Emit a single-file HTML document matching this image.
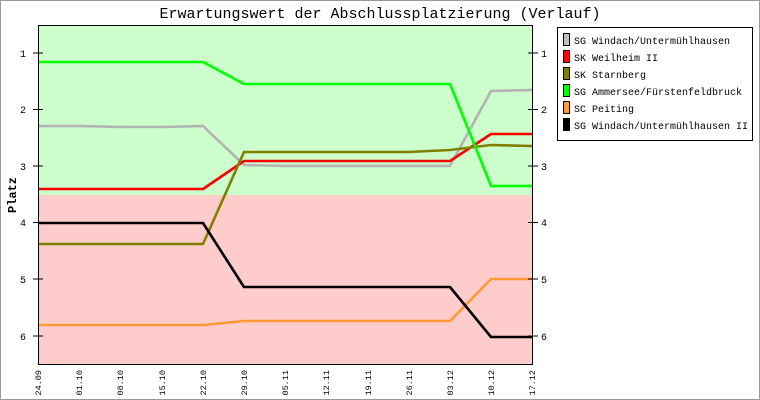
<!DOCTYPE html><html><head><style>body{margin:0}svg{display:block}</style></head><body>
<svg width="760" height="400" xmlns="http://www.w3.org/2000/svg" font-family="Liberation Mono, DejaVu Sans Mono, monospace">
<rect x="0.5" y="0.5" width="759" height="399" fill="#fff" stroke="#999"/>
<text x="380" y="18" font-size="15" text-anchor="middle">Erwartungswert der Abschlussplatzierung (Verlauf)</text>
<rect x="38" y="25" width="495" height="170" fill="#ccffcc"/>
<rect x="38" y="195" width="495" height="170" fill="#ffcccc"/>
<g fill="none" stroke-width="2.6" stroke-linejoin="round">
<polyline stroke="#b3b3b3" points="38,126 79,126 120,127 162,127 203,126 244,165 285,166 326,166 368,166 409,166 450,166 491,91 532,90"/>
<polyline stroke="#ff0000" points="38,189 203,189 244,161 450,161 491,134 532,134"/>
<polyline stroke="#808000" points="38,244 203,244 244,152 409,152 450,150 491,145 532,146"/>
<polyline stroke="#00ff00" points="38,62 203,62 244,84 450,84 491,186 532,186"/>
<polyline stroke="#ff9933" points="38,325 203,325 244,321 450,321 491,279 532,279"/>
<polyline stroke="#000000" points="38,223 203,223 244,287 450,287 491,337 532,337"/>
</g>
<g stroke="#000" fill="none"><rect x="38.5" y="25.5" width="494" height="339"/>
<path d="M33 53h10M33 109.5h10M33 166h10M33 222.5h10M33 279h10M33 336h10M528 53h10M528 109.5h10M528 166h10M528 222.5h10M528 279h10M528 336h10"/></g>
<g font-size="10"><text x="26" y="57" text-anchor="end">1</text><text x="26" y="113" text-anchor="end">2</text><text x="26" y="170" text-anchor="end">3</text><text x="26" y="226" text-anchor="end">4</text><text x="26" y="283" text-anchor="end">5</text><text x="26" y="340" text-anchor="end">6</text>
<text x="541" y="57">1</text><text x="541" y="113">2</text><text x="541" y="170">3</text><text x="541" y="226">4</text><text x="541" y="283">5</text><text x="541" y="340">6</text></g>
<text transform="translate(16,195) rotate(-90)" font-size="12" font-weight="bold" text-anchor="middle">Platz</text>
<g font-size="8.5" text-anchor="end">
<text transform="translate(41,370) rotate(-90)">24.09</text><text transform="translate(82,370) rotate(-90)">01.10</text><text transform="translate(123,370) rotate(-90)">08.10</text><text transform="translate(165,370) rotate(-90)">15.10</text><text transform="translate(206,370) rotate(-90)">22.10</text><text transform="translate(247,370) rotate(-90)">29.10</text><text transform="translate(288,370) rotate(-90)">05.11</text><text transform="translate(329,370) rotate(-90)">12.11</text><text transform="translate(371,370) rotate(-90)">19.11</text><text transform="translate(412,370) rotate(-90)">26.11</text><text transform="translate(453,370) rotate(-90)">03.12</text><text transform="translate(494,370) rotate(-90)">10.12</text><text transform="translate(535,370) rotate(-90)">17.12</text></g>
<rect x="557.5" y="27.5" width="195" height="113" fill="#fff" stroke="#000"/>
<g stroke="#000" stroke-width="1">
<rect x="563.5" y="33.5" width="6" height="12" fill="#c0c0c0"/>
<rect x="563.5" y="50.5" width="6" height="12" fill="#ff0000"/>
<rect x="563.5" y="67.5" width="6" height="12" fill="#808000"/>
<rect x="563.5" y="84.5" width="6" height="12" fill="#00ff00"/>
<rect x="563.5" y="101.5" width="6" height="12" fill="#ff9933"/>
<rect x="563.5" y="118.5" width="6" height="12" fill="#000"/></g>
<g font-size="10"><text x="574" y="44">SG Windach/Untermühlhausen</text><text x="574" y="61">SK Weilheim II</text><text x="574" y="78">SK Starnberg</text><text x="574" y="95">SG Ammersee/Fürstenfeldbruck</text><text x="574" y="112">SC Peiting</text><text x="574" y="129">SG Windach/Untermühlhausen II</text></g>
</svg></body></html>
